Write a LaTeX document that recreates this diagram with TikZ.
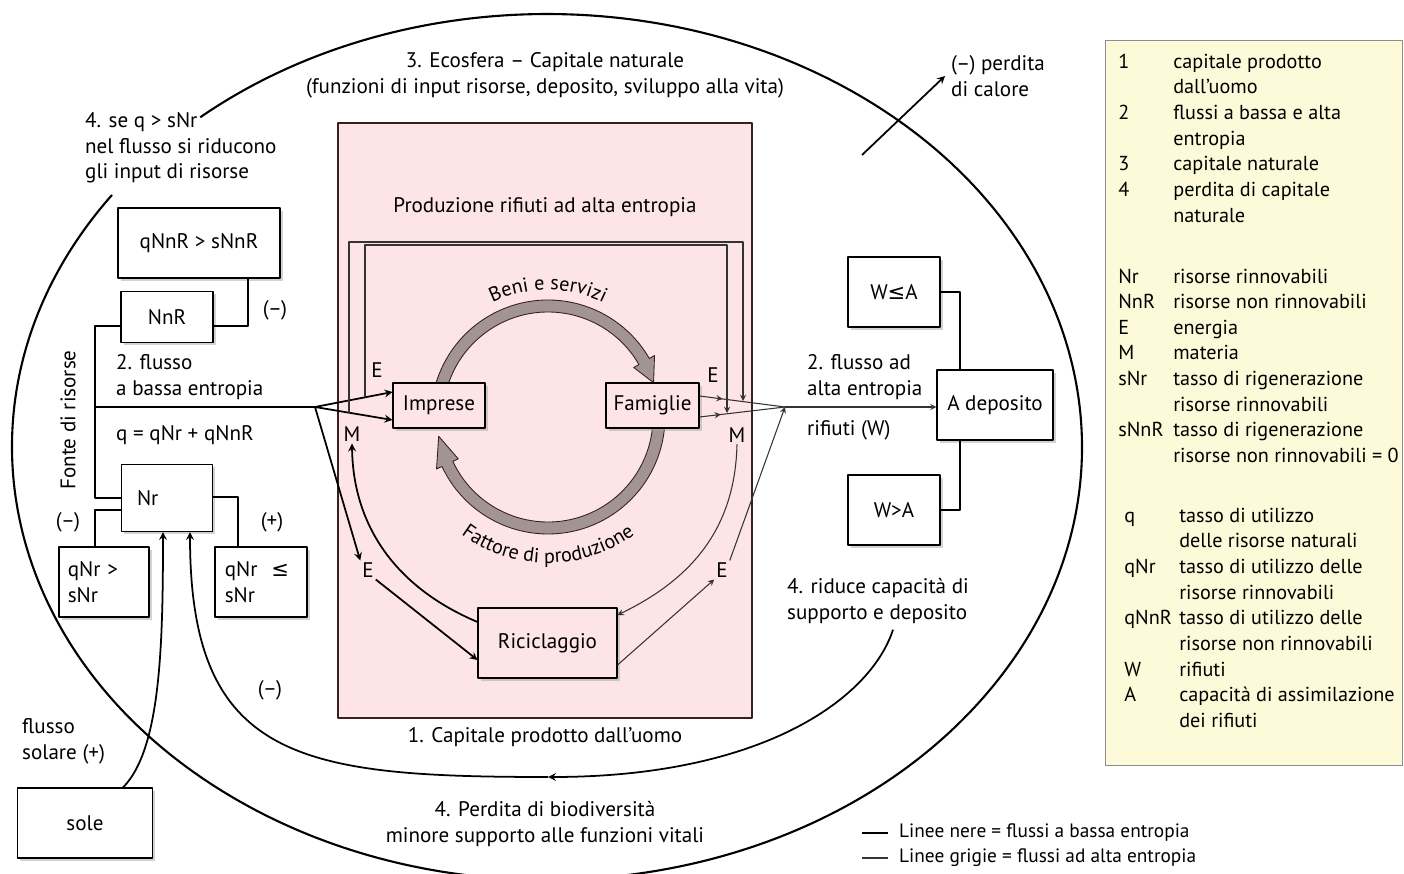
\documentclass[tikz,border=0pt]{standalone}
\usepackage{fontspec}
\setmainfont{PT Sans}
\newfontfamily\simboli{DejaVu Sans}
\usetikzlibrary{shadows,decorations.text,decorations.markings}
\definecolor{rosa}{HTML}{FDE4E6}
\definecolor{giallino}{HTML}{FCFAD8}
\definecolor{bordo}{HTML}{3A1F1F}
\definecolor{grigioarr}{HTML}{A39494}
\tikzset{
  box/.style={draw, line width=0.6pt, fill=white, inner sep=0pt,
    drop shadow={shadow xshift=1.5pt, shadow yshift=-1.5pt, fill=black!35}},
  nera/.style={line width=1pt},
  grigia/.style={line width=0.6pt, draw=black!80},
  lett/.style={inner sep=1pt},
  midarr/.style={postaction={decorate},
    decoration={markings, mark=at position #1 with {\arrow{stealth}}}},
}
\begin{document}
\begin{tikzpicture}[x=0.02cm, y=-0.02cm, font=\fontsize{12}{14.6}\selectfont, line join=round, >=stealth]
  \fill[white] (0,0) rectangle (1404,874);
  \useasboundingbox (0,0) rectangle (1404,874);
  \def\R{111} \def\w{6} \def\hw{12} % anello centrale: raggio, mezza banda, mezza punta
  % ecosfera
  \coordinate (eco) at (547,447);
  \draw[line width=1.2pt] (eco) ++(-144.4:535 and 433) arc[start angle=-144.4, end angle=-490.4, x radius=535, y radius=433];
  \node[align=center] (ecosfera) at (545,75) {3. Ecosfera – Capitale naturale\\(funzioni di input risorse, deposito, sviluppo alla vita)};
  \node[align=left, anchor=west] (calore) at (945,76) {(–) perdita\\di calore};
  \node[align=left, anchor=west] (seq) at (79,148) {4. se q > sNr\\nel flusso si riducono\\gli input di risorse};
  % capitale prodotto dall'uomo
  \node[draw=bordo, line width=1.6pt, fill=rosa, minimum width=8.28cm, minimum height=11.9cm] (capitale) at (545,420.5) {};
  \node (prodrif) at (545,207) {Produzione rifiuti ad alta entropia};
  \node (capuomo) at (545,737) {1. Capitale prodotto dall’uomo};
  \begin{scope}[shift={(548,417)}]
    \foreach \a/\b/\c in {-165/-30/-18, 3/155/170}
      \filldraw[draw=bordo, fill=grigioarr, line width=0.5pt] (\a:\R+\w) arc[start angle=\a, end angle=\b, radius=\R+\w]
        -- (\b:\R+\hw) -- (\c:\R) -- (\b:\R-\hw) -- (\b:\R-\w) arc[start angle=\b, end angle=\a, radius=\R-\w] -- cycle;
    \path[decorate, decoration={text along path, text align=center, text={|\fontsize{11.5}{13}\selectfont|Beni e servizi}}]
      (-132:127) arc[start angle=-132, end angle=-48, radius=127];
    \path[decorate, decoration={text along path, text align=center, text={|\fontsize{11.5}{13}\selectfont|Fattore di produzione}}]
      (146:146) arc[start angle=146, end angle=34, radius=146];
  \end{scope}
  \node[box, fill=rosa, minimum width=1.84cm, minimum height=0.9cm] (imprese) at (439,405.5) {Imprese};
  \node[box, fill=rosa, minimum width=1.86cm, minimum height=0.9cm] (famiglie) at (652.5,405.5) {Famiglie};
  \node[box, fill=rosa, minimum width=2.78cm, minimum height=1.4cm] (ricic) at (547.5,643) {Riciclaggio};
  \node[lett] (eimp) at (377,370) {E};
  \node[lett] (efam) at (713,375) {E};
  \node[lett] (mimp) at (352,434) {M};
  \node[lett] (mfam) at (737,435) {M};
  \node[lett] (el) at (368,570) {E};
  \node[lett] (er) at (722,570) {E};
  % fonte di risorse
  \node[box, minimum width=3.24cm, minimum height=1.4cm] (qnnr) at (199,243) {qNnR > sNnR};
  \node[box, minimum width=1.84cm, minimum height=1.02cm] (nnr) at (167,317) {NnR};
  \node[box, minimum width=1.82cm, minimum height=1.34cm, text width=1.2cm, align=left] (nr) at (167,498) {Nr};
  \node[box, minimum width=1.8cm, minimum height=1.4cm, text width=1.45cm, align=left] (qnrgt) at (104,582) {qNr >\\sNr};
  \node[box, minimum width=1.84cm, minimum height=1.4cm, text width=1.45cm, align=left] (qnrle) at (261,582) {qNr \ {\simboli≤}\\sNr};
  \node[box, minimum width=2.7cm, minimum height=1.4cm] (sole) at (85,823) {sole};
  \node[rotate=90] (fonte) at (68,420) {Fonte di risorse};
  \node[align=left, anchor=west] (flussob) at (110,377) {2. flusso\\a bassa entropia};
  \node[anchor=west] (qeq) at (110,435) {q = qNr + qNnR};
  \node (menoa) at (275,310) {(–)};
  \node (menob) at (68,522) {(–)};
  \node (piua) at (272,522) {(+)};
  \node (menoc) at (270,690) {(–)};
  \node[align=left, anchor=west] (flussos) at (16,741) {flusso\\solare (+)};
  % deposito
  \node[box, minimum width=1.84cm, minimum height=1.4cm] (wle) at (894,292) {W{\simboli≤}A};
  \node[box, minimum width=1.84cm, minimum height=1.4cm] (wgt) at (894,510) {W>A};
  \node[box, minimum width=2.32cm, minimum height=1.4cm] (adep) at (995,405) {A deposito};
  \node[align=left, anchor=west] (flussoa) at (801,377) {2. flusso ad\\alta entropia};
  \node[anchor=west] (rifiuti) at (801,430) {rifiuti (W)};
  \node[align=left, anchor=west] (riduce) at (781,601) {4. riduce capacità di\\supporto e deposito};
  \node[align=center] (perdita) at (545,824) {4. Perdita di biodiversità\\minore supporto alle funzioni vitali};
  % flussi a bassa entropia
  \coordinate (fk) at (315,407);
  \coordinate (fonte0) at (95,407);
  \draw[nera] (nnr.west |- 0,326) -| (95,498) -- (nr.west |- 0,498);
  \draw[nera] (fonte0) -- (fk);
  \draw[nera,->] (fk) -- (imprese.west |- 0,392);
  \draw[nera,->] (fk) -- (imprese.west |- 0,420);
  \draw[nera,->] (fk) -- (el.north west);
  \draw[nera,->] (el.south east) -- (ricic.west |- 0,660);
  \draw[nera,->] (ricic.west |- 0,622) .. controls (390,585) and (353,520) .. (mimp.south);
  \draw[nera] (248,0 |- qnnr.south) |- (nnr.east |- 0,326);
  \draw[nera] (nr.west |- 0,510) -| (95,0 |- qnrgt.north);
  \draw[nera] (nr.east |- 0,497) -| (238,0 |- qnrle.north);
  \draw[nera,->] (sole.north -| 123,0) .. controls (160,750) and (163,650) .. (163,0 |- nr.south);
  \coordinate (fondo) at (548,777);
  \draw[nera,->] (893,0 |- riduce.south) .. controls (870,700) and (760,777) .. (fondo);
  \draw[nera,->] (fondo) .. controls (300,777) and (190,760) .. (190,0 |- nr.south);
  \coordinate (cal0) at (862,155);
  \draw[nera,->] (cal0) -- (calore.west);
  % flussi ad alta entropia
  \coordinate (jn) at (785,407);
  \draw[grigia,->] (349,412.7) -- (349,242) -- (743,242) -- (743,401);
  \draw[grigia,->] (365,397.4) -- (365,245) -- (727,245) -- (727,413);
  \draw[grigia, midarr=0.27] (famiglie.east |- 0,396) -- (jn);
  \draw[grigia, midarr=0.25] (famiglie.east |- 0,417) -- (jn);
  \draw[grigia,->] (jn) -- (adep.west |- jn);
  \draw[grigia,->] (mfam.south) .. controls (735,530) and (690,580) .. (ricic.east |- 0,615);
  \draw[grigia,->] (ricic.east |- 0,665) -- (er.south west);
  \draw[grigia,->] (er.north east) -- (jn);
  \draw[nera] (wle.east) -| (960,0 |- adep.north);
  \draw[nera] (wgt.east) -| (960,0 |- adep.south);
  % legenda
  \node[anchor=west, font=\fontsize{11}{13}\selectfont] (legnere) at (893,833) {Linee nere = flussi a bassa entropia};
  \node[anchor=west, font=\fontsize{11}{13}\selectfont] (leggrigie) at (893,858) {Linee grigie = flussi ad alta entropia};
  \draw[nera] ([xshift=-0.1cm]legnere.west) -- ++(-0.52cm,0);
  \draw[grigia] ([xshift=-0.1cm]leggrigie.west) -- ++(-0.52cm,0);
  \node[draw=black!45, fill=giallino, minimum width=5.94cm, minimum height=14.5cm, anchor=north west] (legenda) at (1105,40) {};
  \node[anchor=north west, inner sep=0pt, font=\fontsize{11.5}{14.6}\selectfont] (voci) at (1118,50) {%
    \begin{tabular}{@{}p{1.1cm}@{}l@{}}
      1 & capitale prodotto\\
        & dall’uomo\\
      2 & flussi a bassa e alta\\
        & entropia\\
      3 & capitale naturale\\
      4 & perdita di capitale\\
        & naturale\\[20pt]
      Nr & risorse rinnovabili\\
      NnR & risorse non rinnovabili\\
      E & energia\\
      M & materia\\
      sNr & tasso di rigenerazione\\
        & risorse rinnovabili\\
      sNnR & tasso di rigenerazione\\
        & risorse non rinnovabili = 0
    \end{tabular}};
  \node[anchor=north west, inner sep=0pt, font=\fontsize{11.5}{14.6}\selectfont] (vociq) at (1124,504) {%
    \begin{tabular}{@{}p{1.1cm}@{}l@{}}
      q & tasso di utilizzo\\
        & delle risorse naturali\\
      qNr & tasso di utilizzo delle\\
        & risorse rinnovabili\\
      qNnR & tasso di utilizzo delle\\
        & risorse non rinnovabili\\
      W & rifiuti\\
      A & capacità di assimilazione\\
        & dei rifiuti
    \end{tabular}};
\end{tikzpicture}
\end{document}
